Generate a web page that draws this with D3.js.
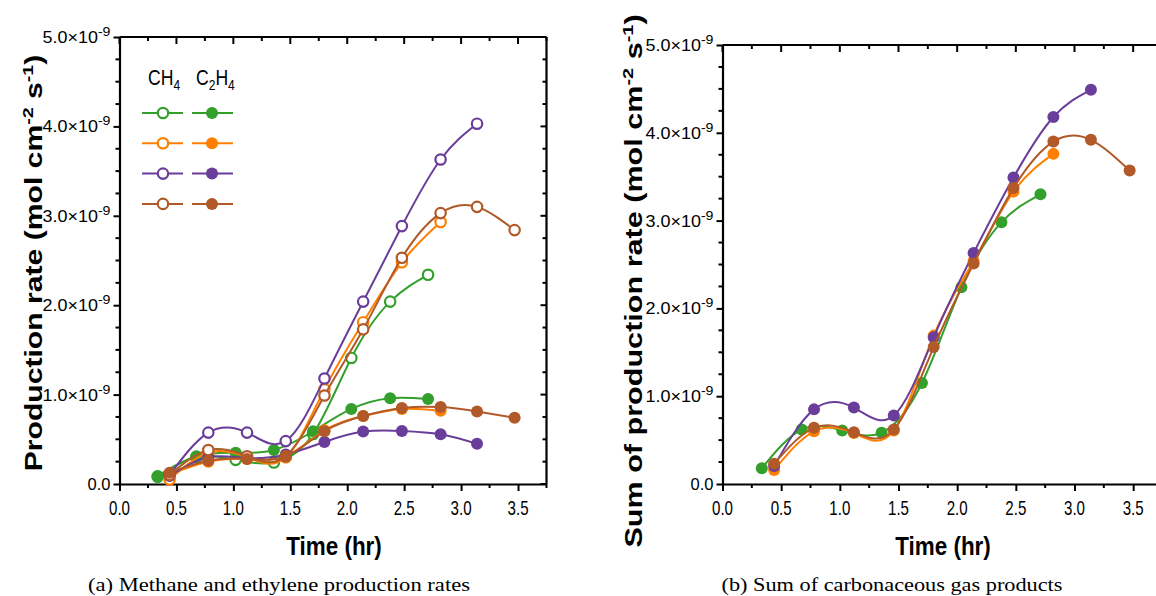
<!DOCTYPE html>
<html>
<head>
<meta charset="utf-8">
<script src="https://cdn.jsdelivr.net/npm/d3@7"></script>
<style>
  body { margin: 0; background: #fff; }
  svg { display: block; }
  text { font-family: "Liberation Sans", Arial, sans-serif; }
  .caption { font-family: "Liberation Serif", "DejaVu Serif", serif; font-size: 19px; }
</style>
</head>
<body>
<svg id="chart" width="1156" height="596"></svg>
<script>
// ---- data (values in units of 1e-9 mol cm^-2 s^-1) ----
const seriesNames = ['green', 'orange', 'purple', 'brown'];
const seriesColours = ['#33a02c', '#ff7f00', '#6a3d9a', '#b15928'];

// sampling times (hr): green run is shifted a bit earlier than the others
const timesGreen = [0.335, 0.675, 1.02, 1.356, 1.70, 2.036, 2.377, 2.71];
const timesOther = [0.44, 0.78, 1.12, 1.46, 1.80, 2.14, 2.48, 2.82, 3.14, 3.47];

// CH4 (open markers)
const ch4Green  = [0.08, 0.30, 0.27, 0.24, 0.56, 1.41, 2.04, 2.34];
const ch4Orange = [0.05, 0.35, 0.30, 0.30, 1.06, 1.81, 2.48, 2.93];
const ch4Purple = [0.10, 0.575, 0.575, 0.48, 1.18, 2.04, 2.885, 3.63, 4.03];
const ch4Brown  = [0.10, 0.38, 0.31, 0.31, 0.99, 1.73, 2.53, 3.03, 3.10, 2.84];

// C2H4 (filled markers)
const c2h4Green  = [0.09, 0.31, 0.35, 0.38, 0.59, 0.84, 0.96, 0.95];
const c2h4Orange = [0.11, 0.25, 0.28, 0.31, 0.60, 0.76, 0.84, 0.82];
const c2h4Purple = [0.09, 0.30, 0.29, 0.33, 0.47, 0.586, 0.594, 0.557, 0.45];
const c2h4Brown  = [0.127, 0.26, 0.28, 0.31, 0.59, 0.76, 0.85, 0.86, 0.81, 0.74];

// sum of carbonaceous gas products (right panel)
const sumGreen  = [0.18, 0.62, 0.61, 0.585, 1.15, 2.24, 2.98, 3.30];
const sumOrange = [0.16, 0.60, 0.58, 0.61, 1.69, 2.54, 3.33, 3.76];
const sumPurple = [0.205, 0.85, 0.87, 0.78, 1.67, 2.63, 3.49, 4.18, 4.49];
const sumBrown  = [0.23, 0.64, 0.59, 0.62, 1.56, 2.51, 3.37, 3.90, 3.92, 3.57];

const xTicks = [0, 0.5, 1.0, 1.5, 2.0, 2.5, 3.0, 3.5];
const yTicks = [0, 1, 2, 3, 4, 5];

const zipSeries = (times, vals) => vals.map((v, i) => ({x: times[i], y: v}));
const timesFor = name => name === 'green' ? timesGreen : timesOther;

const ch4 = [ch4Green, ch4Orange, ch4Purple, ch4Brown];
const c2h4 = [c2h4Green, c2h4Orange, c2h4Purple, c2h4Brown];
const sums = [sumGreen, sumOrange, sumPurple, sumBrown];

const svg = d3.select('#chart');

// draws one framed panel and returns its scales
const drawPanel = (props) => {
  const { x0, x1, y0, y1, showRight, yTitle, yTitleX, yTitleY, yTitleStretch,
          xTitleX, caption, captionX, captionLen } = props;

  const xScale = d3.scaleLinear().domain([0, 3.75]).range([x0, x1]);
  const yScale = d3.scaleLinear().domain([0, 5]).range([y0, y1]);
  const g = svg.append('g');

  const minorX = d3.range(0, 3.76, 0.25).filter(v => Math.abs(v * 2 - Math.round(v * 2)) > 1e-6);
  const minorY = d3.range(0, 5.01, 0.25).filter(v => Math.abs(v - Math.round(v)) > 1e-6);

  // bottom axis, tick labels drawn separately (narrow, like the squashed original)
  const xAxis = d3.axisBottom(xScale).tickValues(xTicks).tickSize(7).tickSizeOuter(0).tickFormat('');
  const xAxisG = g.append('g').attr('transform', `translate(0,${y0})`).call(xAxis);
  xAxisG.select('.domain').attr('stroke-width', 2.2);
  xAxisG.selectAll('.tick line').attr('stroke-width', 2);
  g.append('g').attr('class', 'x-labels').selectAll('text').data(xTicks).join('text')
    .attr('x', d => xScale(d)).attr('y', y0 + 31)
    .attr('text-anchor', 'middle')
    .style('font-size', '21px')
    .attr('textLength', 21).attr('lengthAdjust', 'spacingAndGlyphs')
    .text(d3.format('.1f'));
  g.append('g').selectAll('line').data(minorX).join('line')
    .attr('x1', d => xScale(d)).attr('x2', d => xScale(d))
    .attr('y1', y0).attr('y2', y0 + 4).attr('stroke', '#000').attr('stroke-width', 2);

  // top spine with inward ticks
  g.append('line').attr('x1', x0).attr('x2', x1).attr('y1', y1).attr('y2', y1)
    .attr('stroke', '#000').attr('stroke-width', 2.2);
  g.append('g').selectAll('line').data(xTicks.concat(minorX)).join('line')
    .attr('x1', d => xScale(d)).attr('x2', d => xScale(d))
    .attr('y1', y1).attr('y2', d => y1 + (xTicks.includes(d) ? 7 : 4))
    .attr('stroke', '#000').attr('stroke-width', 2);

  // left axis, labels like 4.0x10^-9
  const yAxis = d3.axisLeft(yScale).tickValues(yTicks).tickSize(6).tickSizeOuter(0).tickFormat('');
  const yAxisG = g.append('g').attr('transform', `translate(${x0},0)`).call(yAxis);
  yAxisG.select('.domain').attr('stroke-width', 2.2);
  yAxisG.selectAll('.tick line').attr('stroke-width', 2);
  g.append('g').attr('class', 'y-labels').selectAll('text').data(yTicks).join('text')
    .attr('x', x0 - 9).attr('y', d => yScale(d) + 6)
    .attr('text-anchor', 'end')
    .style('font-size', '16.5px')
    .each(function (d) {
      const t = d3.select(this);
      if (d === 0) { t.text('0.0'); return; }
      t.append('tspan').text(d.toFixed(1) + '\u00d710');
      t.append('tspan').attr('dy', -7).style('font-size', '13px').text('-9');
      t.attr('textLength', 68).attr('lengthAdjust', 'spacingAndGlyphs');
    });
  g.append('g').selectAll('line').data(minorY).join('line')
    .attr('x1', x0 - 4).attr('x2', x0)
    .attr('y1', d => yScale(d)).attr('y2', d => yScale(d))
    .attr('stroke', '#000').attr('stroke-width', 2);

  // right spine (only visible on the left panel)
  if (showRight) {
    g.append('line').attr('x1', x1).attr('x2', x1).attr('y1', y0).attr('y2', y1)
      .attr('stroke', '#000').attr('stroke-width', 2.2);
    g.append('g').selectAll('line').data(yTicks.concat(minorY)).join('line')
      .attr('x1', d => x1 - (yTicks.includes(d) ? 6 : 4)).attr('x2', x1)
      .attr('y1', d => yScale(d)).attr('y2', d => yScale(d))
      .attr('stroke', '#000').attr('stroke-width', 2);
  }

  // axis titles
  g.append('text')
    .attr('transform', `translate(${xTitleX},555) scale(0.88,1)`)
    .attr('text-anchor', 'middle').attr('font-size', 25.5).attr('font-weight', 'bold')
    .text('Time (hr)');

  const yt = g.append('text')
    .attr('transform', `translate(${yTitleX},${yTitleY}) rotate(-90) scale(${yTitleStretch},1)`)
    .attr('text-anchor', 'middle')
    .attr('font-size', 23).attr('font-weight', 'bold');
  yt.append('tspan').text(yTitle + ' (mol cm');
  yt.append('tspan').attr('dy', -9).attr('font-size', 15).text('-2');
  yt.append('tspan').attr('dy', 9).text(' s');
  yt.append('tspan').attr('dy', -9).attr('font-size', 15).text('-1');
  yt.append('tspan').attr('dy', 9).text(')');

  svg.append('text').attr('class', 'caption')
    .attr('x', captionX).attr('y', 591).attr('text-anchor', 'middle')
    .attr('textLength', captionLen).attr('lengthAdjust', 'spacingAndGlyphs')
    .text(caption);

  return { xScale, yScale, g };
};

const drawSeries = (panel, points, colour, open) => {
  const line = d3.line()
    .x(d => panel.xScale(d.x))
    .y(d => panel.yScale(d.y))
    .curve(d3.curveNatural);
  panel.g.append('path')
    .datum(points)
    .attr('d', line)
    .attr('fill', 'none')
    .attr('stroke', colour)
    .attr('stroke-width', 2);
  panel.g.append('g').selectAll('circle').data(points).join('circle')
    .attr('cx', d => panel.xScale(d.x))
    .attr('cy', d => panel.yScale(d.y))
    .attr('r', open ? 5.2 : 6)
    .attr('fill', open ? '#fff' : colour)
    .attr('stroke', colour)
    .attr('stroke-width', open ? 2.2 : 0);
};

// ---- panel (a) ----
const panelA = drawPanel({
  x0: 119.5, x1: 546.5, y0: 484, y1: 37, showRight: true,
  yTitle: 'Production rate', yTitleX: 42, yTitleY: 263, yTitleStretch: 1.31, xTitleX: 334,
  caption: '(a) Methane and ethylene production rates', captionX: 279, captionLen: 382
});

seriesNames.forEach((name, i) => {
  drawSeries(panelA, zipSeries(timesFor(name), ch4[i]), seriesColours[i], true);
  drawSeries(panelA, zipSeries(timesFor(name), c2h4[i]), seriesColours[i], false);
});

// legend
const legend = panelA.g.append('g');
const header = legend.append('text').attr('transform', `translate(148,85) scale(0.8,1)`).attr('font-size', 22);
header.append('tspan').text('CH');
header.append('tspan').attr('dy', 5).attr('font-size', 15).text('4');
const header2 = legend.append('text').attr('transform', `translate(196,85) scale(0.8,1)`).attr('font-size', 22);
header2.append('tspan').text('C');
header2.append('tspan').attr('dy', 5).attr('font-size', 15).text('2');
header2.append('tspan').attr('dy', -5).text('H');
header2.append('tspan').attr('dy', 5).attr('font-size', 15).text('4');

seriesColours.forEach((c, i) => {
  const y = 113 + i * 30.3;
  [[142, 183, 163, true], [192, 233, 212, false]].forEach(([a, b, m, open]) => {
    legend.append('line').attr('x1', a).attr('x2', b).attr('y1', y).attr('y2', y)
      .attr('stroke', c).attr('stroke-width', 2);
    legend.append('circle').attr('cx', m).attr('cy', y).attr('r', open ? 5.2 : 6)
      .attr('fill', open ? '#fff' : c).attr('stroke', c).attr('stroke-width', open ? 2.2 : 0);
  });
});

// ---- panel (b) ----
const panelB = drawPanel({
  x0: 722.5, x1: 1162.5, y0: 484, y1: 45, showRight: false,
  yTitle: 'Sum of production rate', yTitleX: 642, yTitleY: 281, yTitleStretch: 1.33, xTitleX: 943,
  caption: '(b) Sum of carbonaceous gas products', captionX: 892, captionLen: 341
});

seriesNames.forEach((name, i) => {
  drawSeries(panelB, zipSeries(timesFor(name), sums[i]), seriesColours[i], false);
});
</script>
</body>
</html>
